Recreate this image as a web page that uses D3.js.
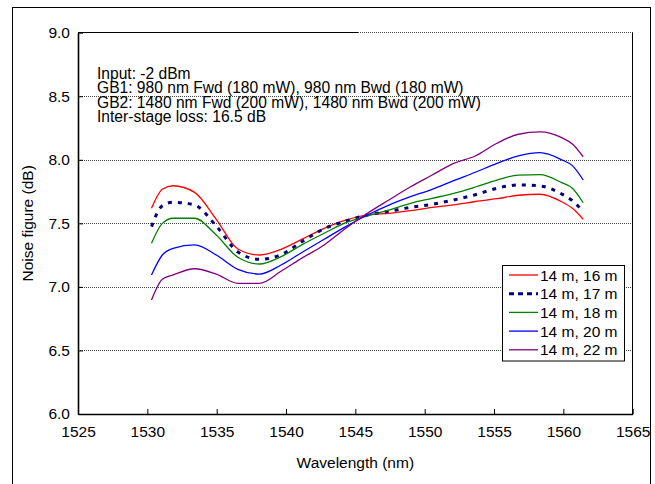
<!DOCTYPE html>
<html>
<head>
<meta charset="utf-8">
<style>
  body { margin: 0; background: #fff; }
  svg text { font-family: "Liberation Sans", Arial, sans-serif; fill: #000; }
</style>
<script src="https://d3js.org/d3.v7.min.js"></script>
</head>
<body>
<svg id="chart" width="655" height="484"></svg>
<script>
  // data
  var wavelengths = [1530.3, 1531.08, 1531.86, 1533.41, 1534.97, 1536.53, 1538.08, 1539.64, 1541.2, 1542.75, 1544.31,
    1545.87, 1547.42, 1548.98, 1550.54, 1552.09, 1553.65, 1555.21, 1556.76, 1558.32, 1559.88, 1560.65, 1561.43]
  var nf16 = [7.618, 7.768, 7.796, 7.744, 7.532, 7.298, 7.251, 7.296, 7.378, 7.461, 7.526,
    7.566, 7.579, 7.600, 7.626, 7.645, 7.672, 7.694, 7.721, 7.729, 7.670, 7.618, 7.532]
  var nf17 = [7.474, 7.639, 7.666, 7.644, 7.479, 7.275, 7.217, 7.253, 7.360, 7.458, 7.518,
    7.566, 7.595, 7.626, 7.650, 7.684, 7.725, 7.776, 7.802, 7.794, 7.731, 7.678, 7.592]
  var nf18 = [7.343, 7.500, 7.540, 7.540, 7.408, 7.233, 7.180, 7.238, 7.335, 7.422, 7.505,
    7.558, 7.605, 7.658, 7.697, 7.736, 7.786, 7.841, 7.880, 7.883, 7.820, 7.776, 7.662]
  var nf20 = [7.094, 7.251, 7.304, 7.330, 7.251, 7.138, 7.101, 7.172, 7.275, 7.375, 7.474,
    7.566, 7.644, 7.710, 7.768, 7.836, 7.902, 7.972, 8.030, 8.056, 8.000, 7.954, 7.841]
  var nf22 = [6.897, 7.060, 7.094, 7.143, 7.101, 7.028, 7.028, 7.123, 7.230, 7.330, 7.461,
    7.579, 7.684, 7.788, 7.880, 7.972, 8.030, 8.130, 8.201, 8.219, 8.174, 8.124, 8.024]
  var seriesNames = ["14 m, 16 m", "14 m, 17 m", "14 m, 18 m", "14 m, 20 m", "14 m, 22 m"]
  var xTicks = [1525, 1530, 1535, 1540, 1545, 1550, 1555, 1560, 1565]
  var yTicks = [6.0, 6.5, 7.0, 7.5, 8.0, 8.5, 9.0]
  var notes = ["Input: -2 dBm",
    "GB1: 980 nm Fwd (180 mW), 980 nm Bwd (180 mW)",
    "GB2: 1480 nm Fwd (200 mW), 1480 nm Bwd (200 mW)",
    "Inter-stage loss: 16.5 dB"]

  var styles = [
    {color: "#ff0000", width: 1.3, dash: null},
    {color: "#000080", width: 3, dash: "4,6"},
    {color: "#008000", width: 1.3, dash: null},
    {color: "#0000ff", width: 1.3, dash: null},
    {color: "#800080", width: 1.3, dash: null}
  ]
  var series = [nf16, nf17, nf18, nf20, nf22].map(function(vals, i) {
    return {name: seriesNames[i], style: styles[i], values: vals.map(function(v, j) { return {x: wavelengths[j], y: v} })}
  })

  var svg = d3.select("#chart")
  var plotL = 78, plotR = 632.7, plotT = 32.7, plotB = 414

  // outer chart border
  svg.append("rect").attr("x", 12.5).attr("y", 7.5).attr("width", 638).attr("height", 490)
    .attr("fill", "#fff").attr("stroke", "#000").attr("stroke-width", 1)

  var x = d3.scaleLinear().domain([1525, 1565]).range([plotL, plotR])
  var y = d3.scaleLinear().domain([6, 9]).range([plotB, plotT])

  // dotted gridlines
  svg.append("g").selectAll("line")
    .data(yTicks.filter(function(d) { return d > 6 && d < 9 }))
    .enter().append("line")
    .attr("x1", plotL).attr("x2", plotR)
    .attr("y1", function(d) { return Math.round(y(d)) + 0.5 })
    .attr("y2", function(d) { return Math.round(y(d)) + 0.5 })
    .attr("stroke", "#444").attr("stroke-dasharray", "1,1")

  // plot frame
  svg.append("line").attr("x1", plotL).attr("x2", 358).attr("y1", 32.5).attr("y2", 32.5).attr("stroke", "#000")
  svg.append("line").attr("x1", 358).attr("x2", plotR).attr("y1", 32.5).attr("y2", 32.5)
    .attr("stroke", "#444").attr("stroke-dasharray", "1,1")
  svg.append("line").attr("x1", 632.5).attr("x2", 632.5).attr("y1", 32.5).attr("y2", plotB).attr("stroke", "#000")

  // axes
  svg.append("g")
    .attr("transform", "translate(0," + plotB + ")")
    .call(d3.axisBottom(x).tickValues(xTicks).tickSizeInner(-5).tickSizeOuter(0).tickPadding(12).tickFormat(d3.format("d")))
    .call(function(g) {
      g.select(".domain").attr("stroke-width", 1.6)
      g.selectAll("text").attr("font-size", 15.5).attr("font-family", "Liberation Sans, Arial, sans-serif")
    })
  svg.append("g")
    .attr("transform", "translate(" + plotL + ",0)")
    .call(d3.axisLeft(y).tickValues(yTicks).tickSizeInner(-5).tickSizeOuter(0).tickPadding(8).tickFormat(d3.format(".1f")))
    .call(function(g) {
      g.select(".domain").attr("stroke-width", 1.6)
      g.selectAll("text").attr("font-size", 15.5).attr("font-family", "Liberation Sans, Arial, sans-serif")
    })

  // axis titles
  svg.append("text")
    .attr("x", (plotL + plotR) / 2).attr("y", 468)
    .attr("text-anchor", "middle").attr("font-size", 15.5)
    .text("Wavelength (nm)")
  svg.append("text")
    .attr("transform", "translate(33," + (plotT + plotB) / 2 + ") rotate(-90)")
    .attr("text-anchor", "middle").attr("font-size", 15.5)
    .text("Noise figure (dB)")

  // curves
  var line = d3.line()
    .x(function(d) { return x(d.x) })
    .y(function(d) { return y(d.y) })
    .curve(d3.curveMonotoneX)
  svg.append("g").selectAll("path")
    .data(series)
    .enter().append("path")
    .attr("d", function(d) { return line(d.values) })
    .attr("fill", "none")
    .attr("stroke", function(d) { return d.style.color })
    .attr("stroke-width", function(d) { return d.style.width })
    .attr("stroke-dasharray", function(d) { return d.style.dash })

  // annotation text
  svg.append("g").selectAll("text")
    .data(notes)
    .enter().append("text")
    .attr("x", 97).attr("y", function(d, i) { return 78.5 + i * 14.5 })
    .attr("font-size", 15.6)
    .text(function(d) { return d })

  // legend
  var lg = svg.append("g")
  lg.append("rect").attr("x", 502.5).attr("y", 265.5).attr("width", 122).attr("height", 95.5)
    .attr("fill", "#fff").attr("stroke", "#000")
  var item = lg.selectAll(".item")
    .data(series)
    .enter().append("g")
    .attr("class", "item")
    .attr("transform", function(d, i) { return "translate(0," + (275 + i * 18.7) + ")" })
  item.append("line")
    .attr("x1", 509).attr("x2", 538).attr("y1", 0).attr("y2", 0)
    .attr("stroke", function(d) { return d.style.color })
    .attr("stroke-width", function(d) { return d.style.width })
    .attr("stroke-dasharray", function(d) { return d.style.dash ? "5,4" : null })
  item.append("text")
    .attr("x", 540).attr("y", 5.5)
    .attr("font-size", 15.5)
    .text(function(d) { return d.name })
</script>
</body>
</html>
